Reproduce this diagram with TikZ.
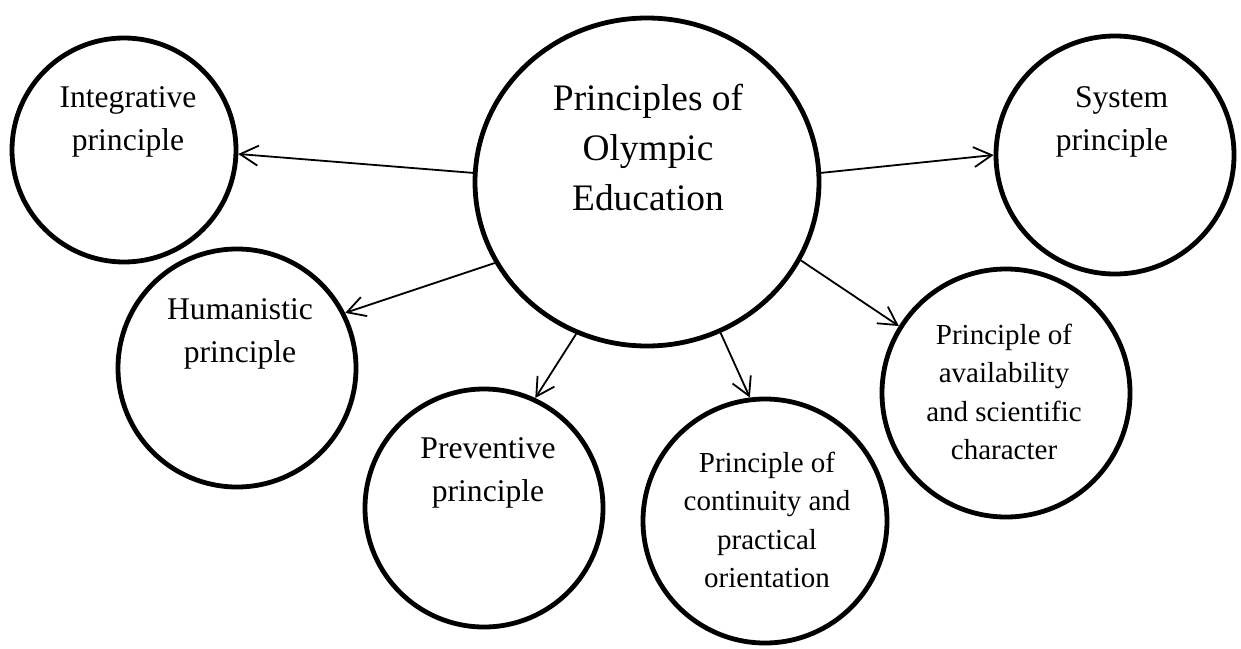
\documentclass[tikz,border=0pt]{standalone}
\usepackage{fontspec}
\setmainfont{Liberation Serif}
\usetikzlibrary{shapes.geometric,arrows.meta}

\begin{document}
\begin{tikzpicture}[x=0.5pt, y=-0.5pt,
    cerchio/.style={draw, circle, line width=2.4pt, inner sep=0pt},
    testo/.style={align=center, inner sep=0pt, font=\fontsize{15.8}{21.5}\selectfont},
    testo_lungo/.style={align=center, inner sep=0pt, font=\fontsize{14.5}{19.3}\selectfont},
    freccia/.style={-{Straight Barb[length=9pt,width=10pt]}, line width=0.9pt}]
    \useasboundingbox (0,0) rectangle (1241,648);

    % --- Cerchio centrale ---
    \node[draw, ellipse, line width=2.4pt, minimum width=172pt, minimum height=164pt] (c_centro) at (647,182) {};
    \node[align=center, inner sep=0pt, font=\fontsize{18.7}{25}\selectfont] (t_centro) at (648,148)
        {Principles of\\Olympic\\Education};

    % --- Cerchi dei principi ---
    \node[cerchio, minimum size=112pt] (c_integr) at (124,150) {};
    \node[testo] (t_integr) at (128,122) {Integrative\\principle};

    \node[cerchio, minimum size=119pt] (c_sistema) at (1115,155) {};
    \node[testo, align=right] (t_sistema) at (1112,122) {System\\principle};

    \node[cerchio, minimum size=119pt] (c_uman) at (237,368) {};
    \node[testo] (t_uman) at (240,334) {Humanistic\\principle};

    \node[cerchio, minimum size=119pt] (c_prev) at (484,508) {};
    \node[testo] (t_prev) at (488,473) {Preventive\\principle};

    \node[cerchio, minimum size=122pt] (c_cont) at (765,521) {};
    \node[testo_lungo] (t_cont) at (767,520)
        {Principle of\\continuity and\\practical\\orientation};

    \node[cerchio, minimum size=124pt] (c_disp) at (1006,393) {};
    \node[testo_lungo] (t_disp) at (1004,392)
        {Principle of\\availability\\and scientific\\character};

    % --- Frecce dal centro ---
    \draw[freccia] (c_centro.177) -- (c_integr.358);
    \draw[freccia] (c_centro.3) -- (c_sistema.180);
    \draw[freccia] (c_centro.208) -- (c_uman.27);
    \draw[freccia] (c_centro.245) -- (c_prev.65);
    \draw[freccia] (c_centro.296) -- (c_cont.97);
    \draw[freccia] (c_centro.333) -- (c_disp.148);
\end{tikzpicture}
\end{document}
